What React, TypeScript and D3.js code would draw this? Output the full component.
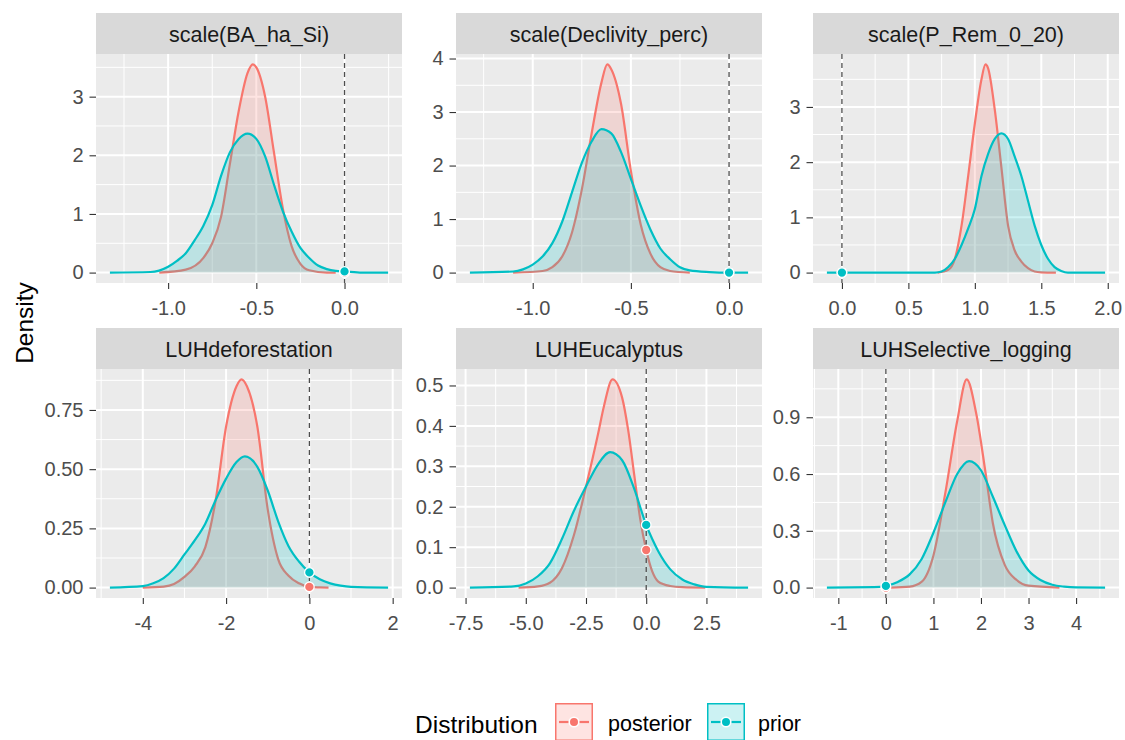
import { useEffect, useRef } from 'react';
import * as d3 from 'd3';

// facet titles, in panel order (row by row)
const facetNames = [
  'scale(BA_ha_Si)',
  'scale(Declivity_perc)',
  'scale(P_Rem_0_20)',
  'LUHdeforestation',
  'LUHEucalyptus',
  'LUHSelective_logging',
];

const seriesNames = ['posterior', 'prior'];
const seriesColors = ['#F8766D', '#00BFC4'];

// [value, density]
const baPosterior = [[-1.05, 0], [-0.9, 0.05], [-0.8, 0.25], [-0.75, 0.5], [-0.7, 0.95], [-0.65, 1.85], [-0.6, 2.75], [-0.55, 3.4], [-0.52, 3.55], [-0.5, 3.5], [-0.45, 3.0], [-0.4, 2.05], [-0.35, 1.1], [-0.3, 0.45], [-0.25, 0.15], [-0.2, 0.04], [-0.1, 0], [-0.05, 0]];
const baPrior = [[-1.33, 0], [-1.1, 0.01], [-1.0, 0.1], [-0.95, 0.2], [-0.9, 0.33], [-0.85, 0.55], [-0.8, 0.8], [-0.75, 1.15], [-0.7, 1.65], [-0.65, 2.05], [-0.6, 2.28], [-0.55, 2.37], [-0.5, 2.28], [-0.45, 1.98], [-0.4, 1.5], [-0.35, 1.05], [-0.3, 0.7], [-0.25, 0.42], [-0.2, 0.25], [-0.15, 0.12], [-0.1, 0.06], [-0.05, 0.03], [0, 0.02], [0.1, 0], [0.247, 0]];

const dePosterior = [[-1.1, 0], [-0.95, 0.03], [-0.9, 0.1], [-0.85, 0.3], [-0.8, 0.75], [-0.75, 1.55], [-0.7, 2.6], [-0.65, 3.55], [-0.62, 3.89], [-0.6, 3.8], [-0.55, 3.15], [-0.5, 1.9], [-0.45, 0.9], [-0.4, 0.35], [-0.35, 0.1], [-0.3, 0.03], [-0.2, 0]];
const dePrior = [[-1.32, 0], [-1.1, 0.02], [-1.05, 0.06], [-1.0, 0.15], [-0.95, 0.3], [-0.9, 0.55], [-0.85, 0.95], [-0.8, 1.5], [-0.75, 2.05], [-0.7, 2.45], [-0.65, 2.68], [-0.6, 2.6], [-0.55, 2.25], [-0.5, 1.75], [-0.45, 1.25], [-0.4, 0.8], [-0.35, 0.45], [-0.3, 0.25], [-0.25, 0.1], [-0.2, 0.04], [-0.1, 0.01], [0, 0], [0.097, 0]];

const prPosterior = [[0.72, 0], [0.8, 0.05], [0.85, 0.25], [0.9, 0.85], [0.95, 1.75], [1.0, 2.7], [1.05, 3.5], [1.08, 3.77], [1.1, 3.7], [1.15, 2.95], [1.2, 1.9], [1.25, 0.85], [1.3, 0.4], [1.35, 0.2], [1.4, 0.08], [1.45, 0.02], [1.5, 0.005], [1.61, 0]];
const prPrior = [[-0.113, 0], [0.7, 0], [0.75, 0.02], [0.8, 0.1], [0.85, 0.25], [0.9, 0.5], [0.95, 0.8], [1.0, 1.15], [1.05, 1.75], [1.1, 2.15], [1.15, 2.42], [1.2, 2.52], [1.25, 2.42], [1.3, 2.1], [1.35, 1.75], [1.4, 1.3], [1.45, 0.85], [1.5, 0.5], [1.55, 0.25], [1.6, 0.1], [1.65, 0.03], [1.7, 0], [1.98, 0]];

const dfPosterior = [[-4.0, 0], [-3.5, 0.004], [-3.25, 0.015], [-3.0, 0.045], [-2.75, 0.09], [-2.5, 0.17], [-2.25, 0.37], [-2.0, 0.68], [-1.75, 0.85], [-1.63, 0.879], [-1.5, 0.85], [-1.25, 0.68], [-1.0, 0.33], [-0.75, 0.12], [-0.5, 0.05], [-0.25, 0.018], [0, 0.003], [0.25, 0.001], [0.46, 0]];
const dfPrior = [[-4.79, 0], [-4.0, 0.006], [-3.75, 0.018], [-3.5, 0.04], [-3.25, 0.08], [-3.0, 0.14], [-2.75, 0.2], [-2.5, 0.27], [-2.25, 0.37], [-2.0, 0.46], [-1.75, 0.53], [-1.55, 0.554], [-1.25, 0.51], [-1.0, 0.41], [-0.75, 0.28], [-0.5, 0.175], [-0.25, 0.11], [0, 0.064], [0.25, 0.035], [0.5, 0.018], [0.75, 0.008], [1.0, 0.003], [1.89, 0]];

const euPosterior = [[-5.3, 0], [-4.5, 0.003], [-4.0, 0.012], [-3.5, 0.048], [-3.0, 0.13], [-2.5, 0.25], [-2.0, 0.38], [-1.75, 0.45], [-1.4, 0.515], [-1.0, 0.47], [-0.75, 0.39], [-0.5, 0.28], [-0.25, 0.17], [0, 0.093], [0.25, 0.04], [0.5, 0.015], [1.0, 0.004], [1.5, 0.001], [2.45, 0]];
const euPrior = [[-7.32, 0], [-5.5, 0.003], [-5.0, 0.01], [-4.5, 0.028], [-4.0, 0.06], [-3.5, 0.12], [-3.0, 0.19], [-2.5, 0.25], [-2.0, 0.305], [-1.5, 0.335], [-1.0, 0.315], [-0.5, 0.245], [0, 0.155], [0.25, 0.12], [0.5, 0.09], [1.0, 0.045], [1.5, 0.02], [2.0, 0.008], [2.5, 0.002], [4.23, 0]];

const slPosterior = [[0.1, 0], [0.5, 0.005], [0.75, 0.03], [1.0, 0.17], [1.25, 0.5], [1.5, 0.88], [1.7, 1.1], [1.9, 0.92], [2.1, 0.6], [2.25, 0.34], [2.5, 0.12], [2.75, 0.04], [3.0, 0.01], [3.65, 0]];
const slPrior = [[-1.24, 0], [-0.25, 0.002], [0, 0.009], [0.25, 0.03], [0.5, 0.07], [0.75, 0.15], [1.0, 0.29], [1.25, 0.45], [1.5, 0.6], [1.75, 0.668], [2.0, 0.62], [2.25, 0.48], [2.5, 0.33], [2.75, 0.19], [3.0, 0.09], [3.25, 0.04], [3.5, 0.015], [3.75, 0.005], [4.0, 0.001], [4.61, 0]];

const posteriorCurves = [baPosterior, dePosterior, prPosterior, dfPosterior, euPosterior, slPosterior];
const priorCurves = [baPrior, dePrior, prPrior, dfPrior, euPrior, slPrior];

// density of each distribution at zero (the dots on the dashed line)
const posteriorAtZero = [0, 0, 0, 0.003, 0.093, 0];
const priorAtZero = [0.02, 0, 0, 0.064, 0.155, 0.009];

const xTicks = [
  [-1, -0.5, 0],
  [-1, -0.5, 0],
  [0, 0.5, 1, 1.5, 2],
  [-4, -2, 0, 2],
  [-7.5, -5, -2.5, 0, 2.5],
  [-1, 0, 1, 2, 3, 4],
];
const yTicks = [
  [0, 1, 2, 3],
  [0, 1, 2, 3, 4],
  [0, 1, 2, 3],
  [0, 0.25, 0.5, 0.75],
  [0, 0.1, 0.2, 0.3, 0.4, 0.5],
  [0, 0.3, 0.6, 0.9],
];
const xDigits = [1, 1, 1, 0, 1, 0];
const yDigits = [0, 0, 0, 2, 1, 1];

const FONT = '"Liberation Sans", Arial, sans-serif';

function minorBreaks(major: number[], domain: number[]) {
  const step = major[1] - major[0];
  const ext = [major[0] - step, ...major, major[major.length - 1] + step];
  const out: number[] = [];
  for (let i = 0; i < ext.length - 1; i++) {
    const m = (ext[i] + ext[i + 1]) / 2;
    if (m >= domain[0] && m <= domain[1]) out.push(m);
  }
  return out;
}

function App() {
  const ref = useRef<SVGSVGElement>(null);

  const drawChart = () => {
    const svg = d3.select(ref.current);
    svg.selectAll('*').remove();

    svg.append('rect').attr('width', 1125).attr('height', 740).attr('fill', '#ffffff');

    const panelLefts = [96, 456, 813];
    const stripTops = [13, 328];
    const panelW = 306;
    const stripH = 41;
    const panelH = 229;

    facetNames.forEach((name, i) => {
      const px = panelLefts[i % 3];
      const sy = stripTops[Math.floor(i / 3)];
      const py = sy + stripH;

      const post = posteriorCurves[i];
      const prior = priorCurves[i];
      const allX = [...post.map(d => d[0]), ...prior.map(d => d[0]), 0];
      const allY = [...post.map(d => d[1]), ...prior.map(d => d[1])];
      const xMin = d3.min(allX) as number;
      const xMax = d3.max(allX) as number;
      const yMax = d3.max(allY) as number;
      const xPad = (xMax - xMin) * 0.05;
      const xDomain = [xMin - xPad, xMax + xPad];
      const yDomain = [-yMax * 0.05, yMax * 1.05];

      const xScale = d3.scaleLinear().domain(xDomain).range([0, panelW]);
      const yScale = d3.scaleLinear().domain(yDomain).range([panelH, 0]);

      // strip
      svg.append('rect')
        .attr('x', px).attr('y', sy).attr('width', panelW).attr('height', stripH)
        .attr('fill', '#D9D9D9');
      svg.append('text')
        .attr('x', px + panelW / 2).attr('y', sy + stripH / 2 + 8)
        .attr('text-anchor', 'middle')
        .attr('font-family', FONT).attr('font-size', 21.5)
        .attr('fill', '#1A1A1A')
        .text(name);

      const g = svg.append('g').attr('transform', `translate(${px},${py})`);
      g.append('rect').attr('width', panelW).attr('height', panelH).attr('fill', '#EBEBEB');

      // grid
      minorBreaks(xTicks[i], xDomain).forEach(v => {
        g.append('line').attr('x1', xScale(v)).attr('x2', xScale(v)).attr('y1', 0).attr('y2', panelH)
          .attr('stroke', '#ffffff').attr('stroke-width', 1);
      });
      minorBreaks(yTicks[i], yDomain).forEach(v => {
        g.append('line').attr('y1', yScale(v)).attr('y2', yScale(v)).attr('x1', 0).attr('x2', panelW)
          .attr('stroke', '#ffffff').attr('stroke-width', 1);
      });
      xTicks[i].forEach(v => {
        g.append('line').attr('x1', xScale(v)).attr('x2', xScale(v)).attr('y1', 0).attr('y2', panelH)
          .attr('stroke', '#ffffff').attr('stroke-width', 2);
      });
      yTicks[i].forEach(v => {
        g.append('line').attr('y1', yScale(v)).attr('y2', yScale(v)).attr('x1', 0).attr('x2', panelW)
          .attr('stroke', '#ffffff').attr('stroke-width', 2);
      });

      const area = d3.area<number[]>()
        .x(d => xScale(d[0]))
        .y0(yScale(0))
        .y1(d => yScale(d[1]))
        .curve(d3.curveMonotoneX);
      const line = d3.line<number[]>()
        .x(d => xScale(d[0]))
        .y(d => yScale(d[1]))
        .curve(d3.curveMonotoneX);

      [post, prior].forEach((curve, k) => {
        g.append('path').datum(curve)
          .attr('d', area)
          .attr('fill', seriesColors[k]).attr('fill-opacity', 0.2);
        g.append('path').datum(curve)
          .attr('d', line)
          .attr('fill', 'none')
          .attr('stroke', seriesColors[k]).attr('stroke-width', 2.2)
          .attr('stroke-linejoin', 'round');
      });

      g.append('line')
        .attr('x1', xScale(0)).attr('x2', xScale(0)).attr('y1', 0).attr('y2', panelH)
        .attr('stroke', '#4D4D4D').attr('stroke-width', 1.3).attr('stroke-dasharray', '5,4');

      [posteriorAtZero[i], priorAtZero[i]].forEach((v, k) => {
        g.append('circle')
          .attr('cx', xScale(0)).attr('cy', yScale(v)).attr('r', 4.8)
          .attr('fill', seriesColors[k]).attr('stroke', '#ffffff').attr('stroke-width', 1.3);
      });

      // axes
      const fx = (digits: number) => (d: d3.NumberValue) => d3.format(`.${digits}f`)(d as number).replace('\u2212', '-');
      const xAxis = g.append('g')
        .attr('transform', `translate(0,${panelH})`)
        .call(d3.axisBottom(xScale).tickValues(xTicks[i]).tickSize(6).tickPadding(12).tickFormat(fx(xDigits[i])));
      const yAxis = g.append('g')
        .call(d3.axisLeft(yScale).tickValues(yTicks[i]).tickSize(6.5).tickPadding(6).tickFormat(fx(yDigits[i])));
      [xAxis, yAxis].forEach(ax => {
        ax.select('.domain').remove();
        ax.selectAll('line').attr('stroke', '#333333').attr('stroke-width', 1.1);
        ax.selectAll('text')
          .attr('font-family', FONT).attr('font-size', 20)
          .attr('fill', '#4D4D4D');
      });
    });

    // y axis title
    svg.append('text')
      .attr('transform', 'translate(32.5,323) rotate(-90)')
      .attr('text-anchor', 'middle')
      .attr('font-family', FONT).attr('font-size', 24.5)
      .attr('fill', '#000000')
      .text('Density');

    // legend
    svg.append('text')
      .attr('x', 415).attr('y', 733)
      .attr('font-family', FONT).attr('font-size', 24.5)
      .attr('fill', '#000000')
      .text('Distribution');

    const keyX = [555, 707];
    const labelX = [608, 758];
    seriesNames.forEach((s, k) => {
      const kg = svg.append('g').attr('transform', `translate(${keyX[k]},703)`);
      kg.append('rect').attr('width', 38).attr('height', 38).attr('fill', '#ffffff');
      kg.append('rect').attr('x', 0.75).attr('y', 0.75).attr('width', 36.5).attr('height', 36.5)
        .attr('fill', seriesColors[k]).attr('fill-opacity', 0.2)
        .attr('stroke', seriesColors[k]).attr('stroke-width', 1.5);
      kg.append('line').attr('x1', 4).attr('x2', 34).attr('y1', 19).attr('y2', 19)
        .attr('stroke', seriesColors[k]).attr('stroke-width', 2.2);
      kg.append('circle').attr('cx', 19).attr('cy', 19).attr('r', 4.8)
        .attr('fill', seriesColors[k]).attr('stroke', '#ffffff').attr('stroke-width', 1.6);
      svg.append('text')
        .attr('x', labelX[k]).attr('y', 731)
        .attr('font-family', FONT).attr('font-size', 21.5)
        .attr('fill', '#000000')
        .text(s);
    });
  };

  useEffect(() => {
    drawChart();
  }, []);

  return (
    <svg
      ref={ref}
      width={1125}
      height={740}
      style={{ position: 'absolute', left: 0, top: 0, display: 'block' }}
    />
  );
}

export default App;
